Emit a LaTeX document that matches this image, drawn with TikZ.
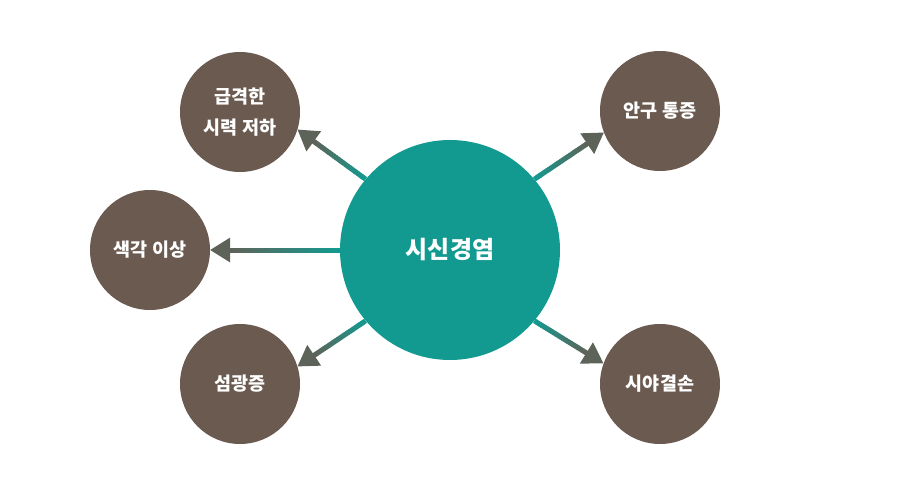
\documentclass[tikz,border=0pt]{standalone}
\usepackage{fontspec}
\newfontfamily\krfont{Noto Sans CJK KR}
\usetikzlibrary{calc}
\definecolor{mainteal}{HTML}{139A90}
\definecolor{leafbrown}{HTML}{6B5A50}
\definecolor{tipgray}{HTML}{5E6359}
\tikzset{
  mainnode/.style={circle,fill=mainteal,minimum size=220pt,inner sep=0pt,text=white,
    font=\krfont\bfseries\fontsize{24}{28}\selectfont},
  leafnode/.style={circle,fill=leafbrown,minimum size=120pt,inner sep=0pt,text=white,align=center,
    font=\krfont\bfseries\fontsize{18.5}{31}\selectfont}
}
% gradient connector: #1 start on the main circle, #2 tip on the leaf circle
\newcommand{\linkarrow}[2]{
  \coordinate (s) at (#1);
  \coordinate (t) at (#2);
  \coordinate (h) at ($(t)!20pt!(s)$);
  \foreach \i in {0,...,29} {
    \pgfmathsetmacro{\p}{100-100*\i/29}
    \draw[line width=5pt,mainteal!\p!tipgray] ($(s)!{\i/30}!(h)$) -- ($(s)!{(\i+1.4)/30}!(h)$);
  }
  \fill[tipgray] (t) -- ($(h)!12.5pt!90:(t)$) -- ($(h)!12.5pt!-90:(t)$) -- cycle;
}
\begin{document}
\begin{tikzpicture}[x=1pt,y=-1pt]
  \useasboundingbox (0,0) rectangle (900,500);
  \node[mainnode] (optic) at (450,250) {시신경염};
  \node[leafnode] (vision) at (240,112) {급격한\\시력 저하};
  \node[leafnode] (color) at (150,250) {색각 이상};
  \node[leafnode] (flash) at (240,384) {섬광증};
  \node[leafnode] (pain) at (660,111) {안구 통증};
  \node[leafnode] (field) at (660,384) {시야결손};
  \linkarrow{optic.140}{vision.-17}
  \linkarrow{optic.180}{color.0}
  \linkarrow{optic.220}{flash.17}
  \linkarrow{optic.40}{pain.201}
  \linkarrow{optic.-40}{field.160}
\end{tikzpicture}
\end{document}
